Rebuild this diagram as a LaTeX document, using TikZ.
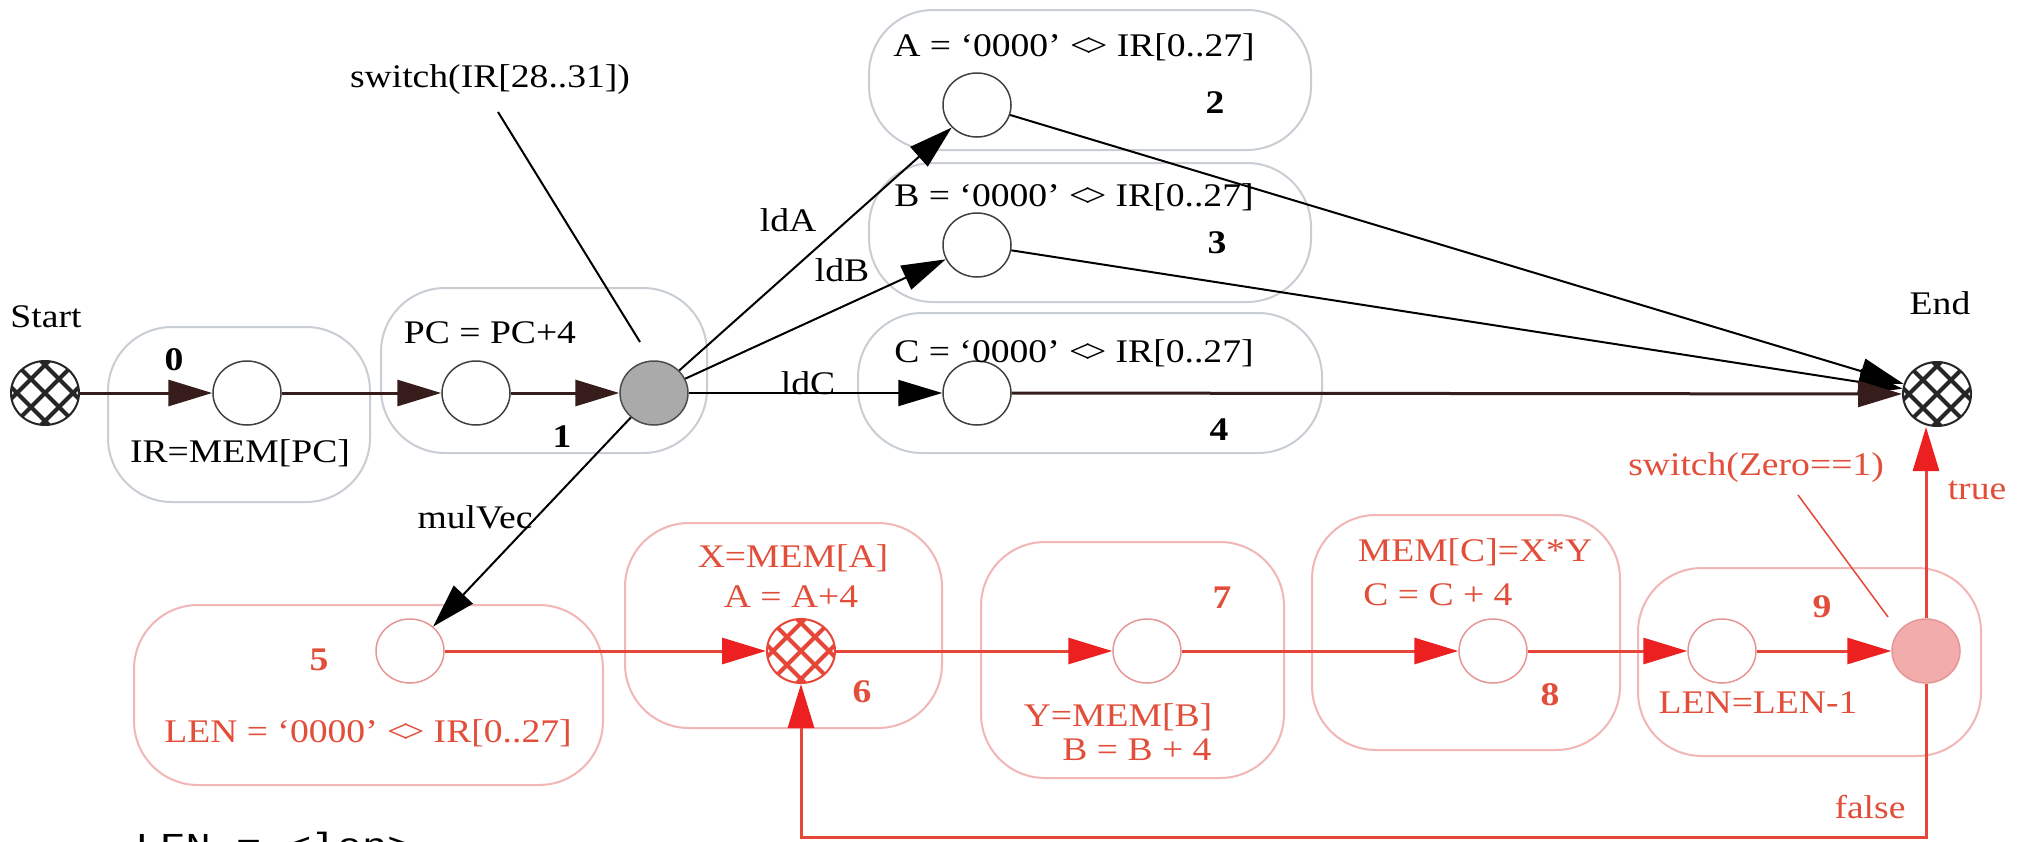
\documentclass[tikz,border=0pt]{standalone}
\usepackage{fontspec}
\setmainfont{Liberation Serif}[FakeStretch=1.14]
\newfontfamily\codefont{Liberation Mono}[FakeStretch=1.2]
\usetikzlibrary{arrows.meta,shapes.geometric}

\definecolor{boxgray}{RGB}{200,206,212}
\definecolor{boxred}{RGB}{242,182,182}
\definecolor{redtext}{RGB}{226,78,58}
\definecolor{redline}{RGB}{230,70,55}
\definecolor{redtip}{RGB}{236,32,32}
\definecolor{redring}{RGB}{230,150,150}
\definecolor{redfill}{RGB}{242,172,172}
\definecolor{grayfill}{RGB}{170,170,170}
\definecolor{darkline}{RGB}{55,28,28}

% "<>" set as a closed lozenge
\newcommand\dia{\mbox{<\kern-0.16em>}}

\begin{document}
\begin{tikzpicture}[x=1pt,y=-1pt,
  txt/.style={inner sep=0pt, font=\fontsize{33}{38}\selectfont},
  num/.style={inner sep=0pt, font=\fontsize{33}{38}\selectfont\bfseries},
  redtxt/.style={txt, text=redtext},
  rednum/.style={num, text=redtext},
  stage/.style={draw=boxgray, line width=2pt, rounded corners=64pt, inner sep=0pt},
  redstage/.style={stage, draw=boxred},
  state/.style={ellipse, draw=black!75, line width=1.5pt, fill=white, inner sep=0pt,
    minimum width=68pt, minimum height=64pt},
  redstate/.style={state, draw=redring},
  hatch/.style={ellipse, draw=#1, line width=2pt, fill=white, inner sep=0pt,
    minimum width=68pt, minimum height=64pt,
    path picture={
      \foreach \k in {-3,...,3}{
        \draw[#1, line width=4pt]
          ([xshift=\k*28pt-60pt, yshift=-60pt]path picture bounding box.center) -- ++(120pt,120pt);
        \draw[#1, line width=4pt]
          ([xshift=\k*28pt-60pt, yshift=60pt]path picture bounding box.center) -- ++(120pt,-120pt);
      }}},
  mainedge/.style={draw=darkline, line width=3pt, -{Triangle[length=44pt,width=26pt]}},
  thinedge/.style={draw=black, line width=2pt, -{Triangle[length=44pt,width=26pt]}},
  rededge/.style={draw=redline, line width=3pt, -{Triangle[length=44pt,width=26pt,color=redtip]}},
  pointer/.style={draw=black, line width=2pt},
  redpointer/.style={draw=redline, line width=1.5pt}
]
\clip (0,0) rectangle (2018,841);
\fill[white] (0,0) rectangle (2018,841);

% stage outlines
\node[stage, minimum width=262pt, minimum height=175pt] (b0) at (239,414.5) {};
\node[stage, minimum width=326pt, minimum height=165pt] (b1) at (544,370.5) {};
\node[stage, minimum width=442pt, minimum height=140pt] (b2) at (1090,80) {};
\node[stage, minimum width=442pt, minimum height=139pt] (b3) at (1090,232.5) {};
\node[stage, minimum width=464pt, minimum height=140pt] (b4) at (1090,383) {};
\node[redstage, minimum width=469pt, minimum height=180pt] (b5) at (368.5,695) {};
\node[redstage, minimum width=317pt, minimum height=205pt] (b6) at (783.5,625.5) {};
\node[redstage, minimum width=303pt, minimum height=236pt] (b7) at (1132.5,660) {};
\node[redstage, minimum width=308pt, minimum height=235pt] (b8) at (1466,632.5) {};
\node[redstage, minimum width=343pt, minimum height=188pt] (b9) at (1809.5,662) {};

% states of the fetch / decode part
\node[hatch=black!85] (start) at (45,393) {};
\node[state] (c0) at (247,393) {};
\node[state] (c1) at (476,393) {};
\node[state, fill=grayfill, draw=black!70] (g) at (654,393) {};
\node[state] (c2) at (977,105) {};
\node[state] (c3) at (977,245) {};
\node[state] (c4) at (977,393) {};
\node[hatch=black!85] (end) at (1937,394) {};

% states of the vector multiply loop
\node[redstate] (c5) at (410,651) {};
\node[hatch=redline] (h6) at (801,651) {};
\node[redstate] (c7) at (1147,651) {};
\node[redstate] (c8) at (1493,651) {};
\node[redstate] (c9) at (1722,651) {};
\node[redstate, fill=redfill] (rf) at (1926,651) {};

% labels
\node[txt] (lstart) at (46,317) {Start};
\node[txt] (lend) at (1940,303) {End};
\node[num] (n0) at (174,360) {0};
\node[txt] (t0) at (240,453) {IR=MEM[PC]};
\node[txt] (t1) at (490,333) {PC = PC+4};
\node[num] (n1) at (562,437) {1};
\node[txt] (sw) at (490,80) {switch(IR[28..31])};
\node[txt] (t2) at (1074,47) {A = ‘0000’ \dia{} IR[0..27]};
\node[num] (n2) at (1215,103) {2};
\node[txt] (t3) at (1074,197) {B = ‘0000’ \dia{} IR[0..27]};
\node[num] (n3) at (1217,243) {3};
\node[txt] (t4) at (1074,353) {C = ‘0000’ \dia{} IR[0..27]};
\node[num] (n4) at (1219,430) {4};
\node[txt] (lda) at (788,220) {ldA};
\node[txt] (ldb) at (842,270) {ldB};
\node[txt] (ldc) at (808,383) {ldC};
\node[txt] (mv) at (475,517) {mulVec};

\node[rednum] (n5) at (319,660) {5};
\node[redtxt] (t5) at (368,733) {LEN = ‘0000’ \dia{} IR[0..27]};
\node[redtxt] (t6a) at (793,558) {X=MEM[A]};
\node[redtxt] (t6b) at (791,597) {A = A+4};
\node[rednum] (n6) at (862,692) {6};
\node[rednum] (n7) at (1222,598) {7};
\node[redtxt] (t7a) at (1118,717) {Y=MEM[B]};
\node[redtxt] (t7b) at (1137,750) {B = B + 4};
\node[redtxt] (t8a) at (1475,552) {MEM[C]=X*Y};
\node[redtxt] (t8b) at (1438,595) {C = C + 4};
\node[rednum] (n8) at (1550,695) {8};
\node[rednum] (n9) at (1822,607) {9};
\node[redtxt] (t9) at (1758,703) {LEN=LEN-1};
\node[redtxt] (zw) at (1756,468) {switch(Zero==1)};
\node[redtxt] (ltrue) at (1977,490) {true};
\node[redtxt] (lfalse) at (1870,807) {false};

\node[anchor=base west, inner sep=0pt, font=\codefont\fontsize{35}{40}\selectfont]
  (lenvar) at (135,857) {LEN = <len>};

% pointers from the switch labels
\coordinate (swA) at (498,112);
\coordinate (swB) at (640,342);
\draw[pointer] (swA) -- (swB);
\coordinate (zwA) at (1798,495);
\coordinate (zwB) at (1888,617);
\draw[redpointer] (zwA) -- (zwB);

% transitions
\draw[mainedge] (start) -- (c0);
\draw[mainedge] (c0) -- (c1);
\draw[mainedge] (c1) -- (g);
\draw[thinedge] (g) -- (c2);
\draw[thinedge] (g) -- (c3);
\draw[thinedge] (g) -- (c4);
\draw[thinedge] (g) -- (c5);
\draw[thinedge] (c2) -- (end);
\draw[thinedge] (c3) -- (end);
\draw[mainedge] (c4) -- (end);

\draw[rededge] (c5) -- (h6);
\draw[rededge] (h6) -- (c7);
\draw[rededge] (c7) -- (c8);
\draw[rededge] (c8) -- (c9);
\draw[rededge] (c9) -- (rf);
\draw[rededge] (rf) -- (rf |- end.south);
\coordinate (fl) at (1929,837);
\draw[rededge] (rf) -- (rf |- fl) -| (h6);
\end{tikzpicture}
\end{document}
